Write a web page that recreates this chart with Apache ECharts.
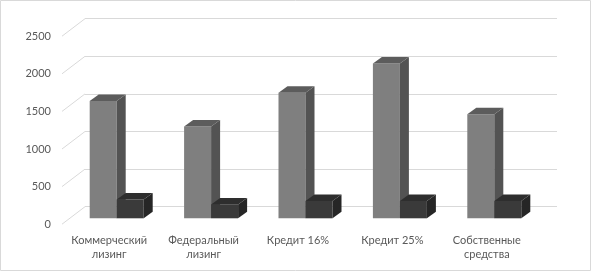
<!DOCTYPE html>
<html>
<head>
<meta charset="utf-8">
<script src="https://cdn.jsdelivr.net/npm/echarts@6/dist/echarts.min.js"></script>
<style>
  html, body { margin: 0; padding: 0; background: #fff; }
  #chart { width: 592px; height: 272px; }
</style>
</head>
<body>
<div id="chart"></div>
<script>
var categories = ['Коммерческий\nлизинг', 'Федеральный\nлизинг', 'Кредит 16%', 'Кредит 25%', 'Собственные\nсредства'];
var mainValues = [1560, 1220, 1670, 2060, 1385];
var smallValues = [250, 185, 230, 230, 230];
var yTicks = [0, 500, 1000, 1500, 2000, 2500];

// depth of the floor (back wall -> front edge) and of a single bar
var DEPTH_X = -23, DEPTH_Y = 17.5;
var BAR_SHIFT_X = -15.5, BAR_SHIFT_Y = 11.6;
var BAR_W = 27, CAP_X = 9, CAP_Y = 6.5;

function barRenderer(right, colors) {
    return function (params, api) {
        var top = api.coord([api.value(0), api.value(1)]);
        var base = api.coord([api.value(0), 0]);
        var c = top[0] + BAR_SHIFT_X;
        var ty = top[1] + BAR_SHIFT_Y;
        var by = base[1] + BAR_SHIFT_Y;
        var x0 = right ? c : c - BAR_W;
        var x1 = x0 + BAR_W;
        return {
            type: 'group',
            children: [
                {type: 'rect', shape: {x: x0, y: ty, width: BAR_W, height: by - ty}, style: {fill: colors[0]}},
                {type: 'polygon', shape: {points: [[x1, ty], [x1 + CAP_X, ty - CAP_Y], [x1 + CAP_X, by - CAP_Y], [x1, by]]}, style: {fill: colors[1]}},
                {type: 'polygon', shape: {points: [[x0, ty], [x0 + CAP_X, ty - CAP_Y], [x1 + CAP_X, ty - CAP_Y], [x1, ty]]}, style: {fill: colors[2]}}
            ]
        };
    };
}

var chart = echarts.init(document.getElementById('chart'));
chart.setOption({
    animation: false,
    textStyle: {fontFamily: 'Lato'},
    graphic: [{
        type: 'rect',
        shape: {x: 0.5, y: 0.5, width: 590, height: 270},
        style: {fill: 'none', stroke: '#d9d9d9', lineWidth: 1}
    }],
    grid: [
        // back wall
        {left: 85, right: 35, top: 18.7, bottom: 65.3},
        // front edge (for labels)
        {left: 62, right: 58, top: 36.2, bottom: 47.8}
    ],
    xAxis: [
        {
            gridIndex: 0, type: 'category', data: categories,
            axisLine: {show: false}, axisTick: {show: false}, axisLabel: {show: false}
        },
        {
            gridIndex: 1, type: 'category', data: categories,
            axisLine: {show: false}, axisTick: {show: false},
            axisLabel: {color: '#595959', fontSize: 11, lineHeight: 14, margin: 9, interval: 0}
        }
    ],
    yAxis: [
        {
            gridIndex: 0, type: 'value', min: 0, max: 2500, interval: 500,
            axisLine: {show: false}, axisTick: {show: false}, axisLabel: {show: false},
            splitLine: {lineStyle: {color: '#d9d9d9', width: 1}}
        },
        {
            gridIndex: 1, type: 'value', min: 0, max: 2500, interval: 500,
            axisLine: {show: false}, axisTick: {show: false},
            axisLabel: {color: '#595959', fontSize: 11, margin: 11, formatter: function (v) { return String(v); }},
            splitLine: {show: false}
        }
    ],
    series: [
        {
            // diagonal floor/side-wall lines
            type: 'custom', xAxisIndex: 0, yAxisIndex: 0,
            data: yTicks.map(function (v) { return [0, v]; }),
            renderItem: function (params, api) {
                var y = api.coord([0, api.value(1)])[1];
                var x = params.coordSys.x;
                return {
                    type: 'line',
                    shape: {x1: x + DEPTH_X, y1: y + DEPTH_Y, x2: x, y2: y},
                    style: {stroke: '#d9d9d9', lineWidth: 1}
                };
            },
            silent: true
        },
        {
            type: 'custom', xAxisIndex: 0, yAxisIndex: 0,
            data: mainValues.map(function (v, i) { return [i, v]; }),
            renderItem: barRenderer(false, ['#7f7f7f', '#535353', '#5c5c5c'])
        },
        {
            type: 'custom', xAxisIndex: 0, yAxisIndex: 0,
            data: smallValues.map(function (v, i) { return [i, v]; }),
            renderItem: barRenderer(true, ['#3a3a3a', '#262626', '#2e2e2e'])
        }
    ]
});
</script>
</body>
</html>
